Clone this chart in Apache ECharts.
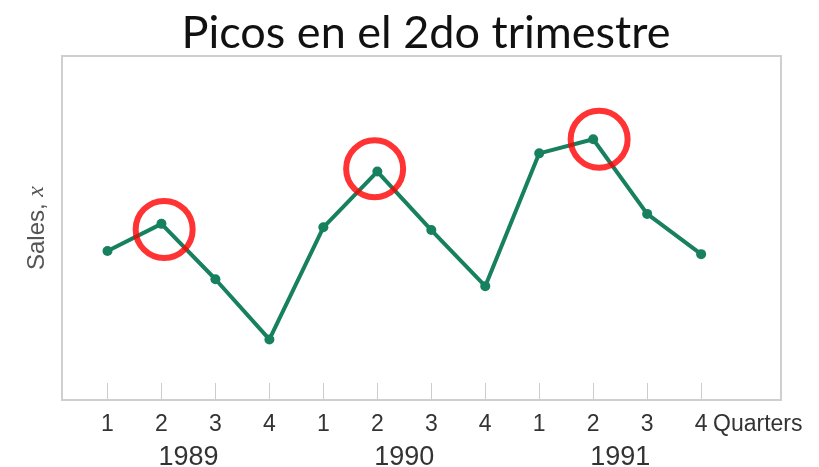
<!DOCTYPE html>
<html>
<head>
<meta charset="utf-8">
<script src="https://cdn.jsdelivr.net/npm/echarts@6/dist/echarts.min.js"></script>
<style>
  html, body { margin: 0; padding: 0; background: #fff; }
  #chart { width: 819px; height: 467px; }
</style>
</head>
<body>
<div id="chart"></div>
<script>
// posiciones de los trimestres en el eje x
var quarterPos = [1, 2, 3, 4, 5, 6, 7, 8, 9, 10, 11, 12];
var quarterLabels = ['1', '2', '3', '4', '1', '2', '3', '4', '1', '2', '3', '4'];
// ventas (escala relativa 0-100)
var sales = [43.3, 51.2, 35.1, 17.6, 50.2, 66.4, 49.4, 33.1, 71.7, 75.8, 54.1, 42.4];
// años, centrados entre el 2do y 3er trimestre
var yearPos = [2.5, 6.5, 10.5];
var yearLabels = ['1989', '1990', '1991'];
// círculos rojos sobre los picos
var peakX = [2.05, 5.95, 10.11];
var peakY = [49.6, 67.2, 75.8];

var chart = echarts.init(document.getElementById('chart'));

var lineData = quarterPos.map(function (q, i) { return [q, sales[i]]; });
var peakData = peakX.map(function (x, i) { return [x, peakY[i]]; });

var option = {
  animation: false,
  title: {
    text: 'Picos en el 2do trimestre',
    left: 421,
    textAlign: 'center',
    top: 6,
    textStyle: {
      fontFamily: 'Lato',
      fontWeight: 'normal',
      fontSize: 45,
      color: '#111'
    }
  },
  grid: {
    left: 62,
    right: 38,
    top: 56,
    bottom: 67,
    outerBoundsMode: 'none',
    show: true,
    borderColor: '#cfcfcf',
    borderWidth: 2
  },
  xAxis: [{
    type: 'value',
    min: 0.157,
    max: 13.48,
    name: '{q|Quarters}',
    nameLocation: 'end',
    nameGap: -68,
    nameMoveOverlap: false,
    nameTextStyle: {
      align: 'left',
      verticalAlign: 'top',
      rich: {
        q: {
          fontFamily: 'Liberation Sans',
          fontSize: 23,
          color: '#333',
          padding: [13, 0, 0, 0]
        }
      }
    },
    axisLine: { show: true, lineStyle: { color: '#cfcfcf', width: 2 } },
    axisTick: {
      show: true,
      inside: true,
      length: 17,
      customValues: quarterPos,
      lineStyle: { color: '#cccccc', width: 1 }
    },
    axisLabel: {
      customValues: quarterPos,
      margin: 13,
      fontFamily: 'Liberation Sans',
      fontSize: 23,
      color: '#333',
      formatter: function (v) { return quarterLabels[Math.round(v) - 1]; }
    },
    splitLine: { show: false }
  }, {
    type: 'value',
    min: 0.157,
    max: 13.48,
    position: 'bottom',
    offset: 34,
    axisLine: { show: false },
    axisTick: { show: false },
    axisLabel: {
      customValues: yearPos,
      margin: 10,
      fontFamily: 'Liberation Sans',
      fontSize: 27,
      color: '#333',
      formatter: function (v) { return yearLabels[yearPos.indexOf(v)]; }
    },
    splitLine: { show: false }
  }],
  yAxis: {
    type: 'value',
    min: 0,
    max: 100,
    name: '{a|Sales, }{b|x}',
    nameLocation: 'middle',
    nameGap: 13,
    nameTextStyle: {
      rich: {
        a: { fontFamily: 'Liberation Sans', fontSize: 24, color: '#555' },
        b: { fontFamily: 'Liberation Serif', fontStyle: 'italic', fontSize: 24, color: '#555' }
      }
    },
    axisLine: { show: true, lineStyle: { color: '#cfcfcf', width: 2 } },
    axisTick: { show: false },
    axisLabel: { show: false },
    splitLine: { show: false }
  },
  series: [{
    name: 'Sales',
    type: 'line',
    data: lineData,
    symbol: 'circle',
    symbolSize: 10,
    lineStyle: { color: '#17805f', width: 4 },
    itemStyle: { color: '#17805f' },
    z: 2
  }, {
    name: 'Picos',
    type: 'scatter',
    xAxisIndex: 0,
    data: peakData,
    symbol: 'circle',
    symbolSize: 57,
    itemStyle: {
      color: 'rgba(0,0,0,0)',
      borderColor: '#ff0000',
      borderWidth: 6
    },
    z: 3
  }]
};

chart.setOption(option);
</script>
</body>
</html>
